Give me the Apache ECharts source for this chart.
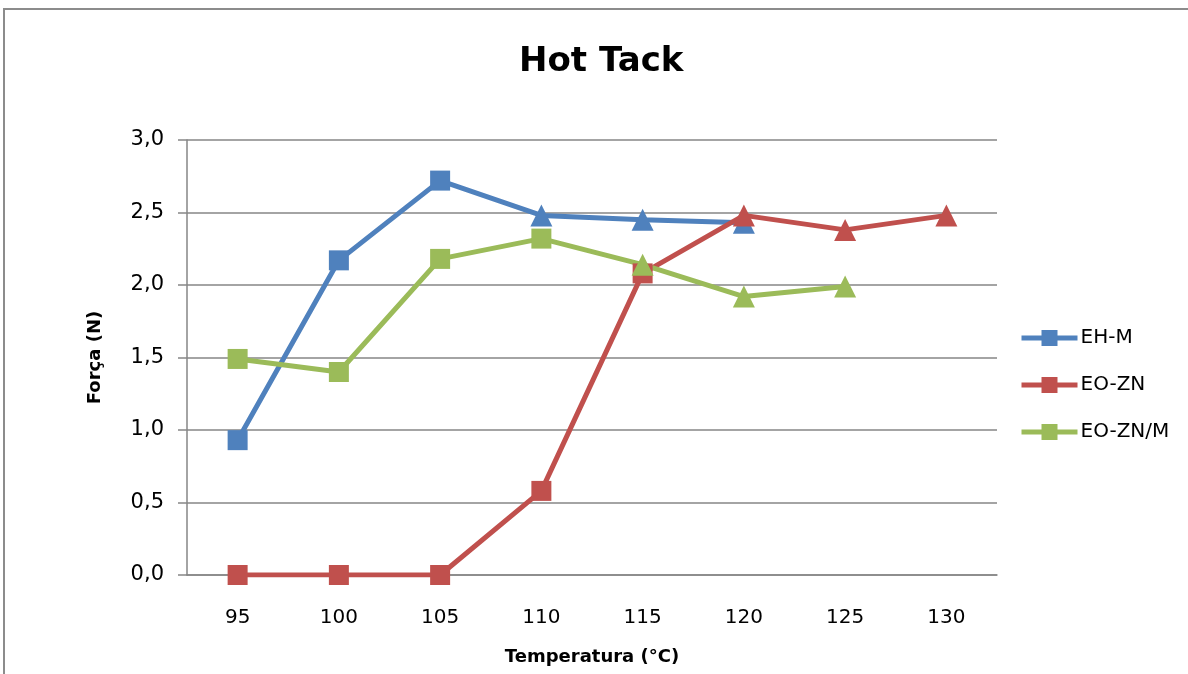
<!DOCTYPE html>
<html>
<head>
<meta charset="utf-8">
<title>Hot Tack</title>
<script src="https://cdn.jsdelivr.net/npm/echarts@6/dist/echarts.min.js"></script>
<style>
  html, body { margin: 0; padding: 0; background: #fff; overflow: hidden; }
  #chart { width: 1188px; height: 674px; }
</style>
</head>
<body>
<div id="chart"></div>
<script>
// Temperature categories (°C)
const temperatures = ['95', '100', '105', '110', '115', '120', '125', '130'];

// Hot tack force (N) per temperature; null where no measurement
const ehM    = [0.93, 2.17, 2.72, 2.48, 2.45, 2.43, null, null];
const eoZn   = [0.00, 0.00, 0.00, 0.58, 2.08, 2.48, 2.38, 2.48];
const eoZnM  = [1.49, 1.40, 2.18, 2.32, 2.14, 1.92, 1.99, null];

// Index from which each series uses triangle markers instead of squares
const triangleFrom = { 'EH-M': 3, 'EO-ZN': 5, 'EO-ZN/M': 4 };

const FONT = '"DejaVu Sans", "Liberation Sans", sans-serif';

function buildSeries(name, values, color) {
  const start = triangleFrom[name];
  return {
    name: name,
    type: 'line',
    data: values.map((v, i) => ({
      value: v,
      symbol: i >= start ? 'triangle' : 'rect',
      symbolSize: i >= start ? 22 : 20
    })),
    symbol: 'rect',
    symbolSize: 20,
    lineStyle: { color: color, width: 5 },
    itemStyle: { color: color },
    connectNulls: false,
    animation: false
  };
}

const chart = echarts.init(document.getElementById('chart'));
chart.setOption({
  backgroundColor: '#ffffff',
  animation: false,
  title: {
    text: 'Hot Tack',
    left: 514,
    top: 40,
    textStyle: { fontFamily: FONT, fontSize: 34, fontWeight: 'bold', color: '#000' }
  },
  graphic: [{
    type: 'rect',
    shape: { x: 4, y: 9, width: 1200, height: 700 },
    style: { fill: 'none', stroke: '#8c8c8c', lineWidth: 2 },
    silent: true
  }],
  legend: {
    orient: 'vertical',
    left: 1014,
    top: 323,
    itemWidth: 56,
    itemHeight: 20,
    itemGap: 27,
    lineStyle: { width: 5 },
    textStyle: { fontFamily: FONT, fontSize: 20, color: '#000', padding: [0, 0, 0, -2] },
    data: ['EH-M', 'EO-ZN', 'EO-ZN/M']
  },
  grid: { left: 187, right: 191, top: 140, height: 435, containLabel: false },
  xAxis: {
    type: 'category',
    data: temperatures,
    boundaryGap: true,
    name: 'Temperatura (°C)',
    nameLocation: 'middle',
    nameGap: 73,
    nameTextStyle: { fontFamily: FONT, fontSize: 18, fontWeight: 'bold', color: '#000' },
    axisLine: { show: true, lineStyle: { color: '#868686', width: 1.5 } },
    axisTick: { show: false },
    axisLabel: { fontFamily: FONT, fontSize: 20, color: '#000', margin: 33 }
  },
  yAxis: {
    type: 'value',
    min: 0,
    max: 3,
    interval: 0.5,
    name: 'Força (N)',
    nameLocation: 'middle',
    nameGap: 83,
    nameRotate: 90,
    nameTextStyle: { fontFamily: FONT, fontSize: 18, fontWeight: 'bold', color: '#000' },
    axisLine: { show: true, lineStyle: { color: '#868686', width: 1.5 } },
    axisTick: { show: true, inside: false, length: 9, lineStyle: { color: '#868686', width: 1.5 } },
    axisLabel: {
      fontFamily: FONT, fontSize: 21, color: '#000', margin: 23,
      formatter: v => v.toFixed(1).replace('.', ',')
    },
    splitLine: { show: true, lineStyle: { color: '#868686', width: 1.5 } }
  },
  series: [
    buildSeries('EH-M', ehM, '#4F81BD'),
    buildSeries('EO-ZN', eoZn, '#C0504D'),
    buildSeries('EO-ZN/M', eoZnM, '#9BBB59')
  ]
});
</script>
</body>
</html>
